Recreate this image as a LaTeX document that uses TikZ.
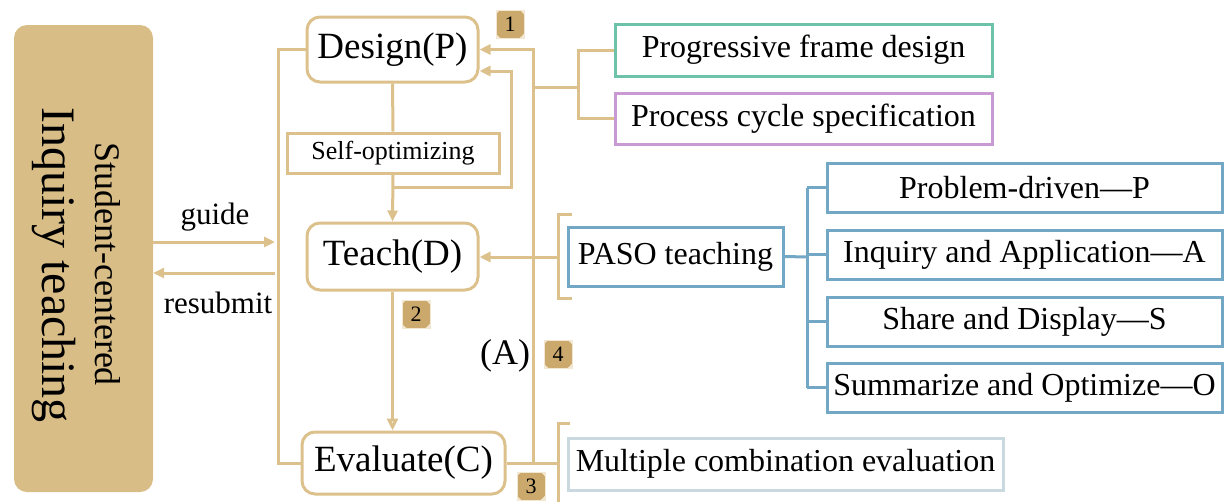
\documentclass[tikz,border=0pt]{standalone}
\usepackage{fontspec}
\setmainfont{Liberation Serif}
\usetikzlibrary{arrows.meta}
\definecolor{mytan}{HTML}{D9BD87}
\definecolor{linetan}{HTML}{DDC18C}
\definecolor{badgedark}{HTML}{CBA86C}
\definecolor{badgelight}{HTML}{F2E7D0}
\definecolor{myteal}{HTML}{6DC2AA}
\definecolor{mypurple}{HTML}{C899D2}
\definecolor{myblue}{HTML}{72A8C5}
\definecolor{mygray}{HTML}{C9D9DF}
\tikzset{
  tanline/.style={draw=linetan, line width=3pt},
  blueline/.style={draw=myblue, line width=3pt},
  arr/.style={-{Triangle[length=11pt,width=10pt]}},
  openarr/.style={-{Triangle[open,length=12pt,width=11pt,fill=white]}},
  procbox/.style={draw=linetan, line width=3pt, rounded corners=13pt, inner sep=0pt,
    fill=white, font=\fontsize{37}{40}\selectfont},
  tbox/.style={rectangle, line width=3pt, inner sep=0pt, fill=white,
    font=\fontsize{32}{36}\selectfont},
  badge/.style={minimum size=28pt, inner sep=0pt, fill=badgelight, draw=badgelight, line width=1pt,
    path picture={\fill[badgedark] (path picture bounding box.center) circle (16.8pt);},
    font=\fontsize{22}{22}\selectfont},
  lbl/.style={inner sep=0pt, font=\fontsize{31}{34}\selectfont}
}
\begin{document}
\begin{tikzpicture}[x=1pt,y=-1pt]
\useasboundingbox (0,0) rectangle (1225,501);

% left panel
\node[fill=mytan, rounded corners=13pt, minimum width=139pt, minimum height=467pt, inner sep=0pt] (main) at (83.5,258.5) {};
\node[rotate=-90, inner sep=0pt, font=\fontsize{48}{50}\selectfont] (inq) at (54,265) {Inquiry teaching};
\node[rotate=-90, inner sep=0pt, font=\fontsize{36}{38}\selectfont] (stu) at (108,264) {Student-centered};

% labels
\node[lbl] (guide) at (215,217) {guide};
\node[lbl] (resub) at (218,303) {resubmit};
\node[inner sep=0pt, font=\fontsize{36}{38}\selectfont] (A) at (505,356) {(A)};

% process boxes
\node[procbox, minimum width=171pt, minimum height=65pt] (design) at (392.5,49.5) {Design(P)};
\node[draw=linetan, line width=3pt, inner sep=0pt, minimum width=212pt, minimum height=40pt, font=\fontsize{26}{28}\selectfont] (self) at (393,153) {Self-optimizing};
\node[procbox, minimum width=171pt, minimum height=67pt] (teach) at (392.5,256.5) {Teach(D)};
\node[procbox, minimum width=203pt, minimum height=62pt] (eval) at (403.5,463) {Evaluate(C)};

% badges
\node[badge] (b1) at (510,24) {1};
\node[badge] (b2) at (416,314) {2};
\node[badge] (b3) at (531,486) {3};
\node[badge] (b4) at (558,354) {4};

% right boxes
\node[tbox, draw=myteal, minimum width=377pt, minimum height=52pt] (prog) at (803.5,50) {Progressive frame design};
\node[tbox, draw=mypurple, minimum width=377pt, minimum height=51pt] (proc) at (803.5,118.5) {Process cycle specification};
\node[tbox, draw=myblue, minimum width=215pt, minimum height=59pt] (paso) at (675.5,256.5) {PASO teaching};
\node[tbox, draw=myblue, minimum width=395pt, minimum height=49pt] (p1) at (1024.5,187.5) {Problem-driven—P};
\node[tbox, draw=myblue, minimum width=395pt, minimum height=49pt] (p2) at (1024.5,254.5) {Inquiry and Application—A};
\node[tbox, draw=myblue, minimum width=395pt, minimum height=49pt] (p3) at (1024.5,321.5) {Share and Display—S};
\node[tbox, draw=myblue, minimum width=395pt, minimum height=49pt] (p4) at (1024.5,387.5) {Summarize and Optimize—O};
\node[tbox, draw=mygray, minimum width=435pt, minimum height=52pt] (mult) at (785.5,464) {Multiple combination evaluation};

% coordinates
\coordinate (gA) at (main.east |- 0,242);
\coordinate (gB) at (275,242);
\coordinate (rA) at (275,273);
\coordinate (rB) at (main.east |- 0,273);
\coordinate (L1) at (278,0 |- design.west);
\coordinate (L2) at (278,0 |- eval.west);
\coordinate (sj) at (393,187);
\coordinate (sk) at (511,187);
\coordinate (sl) at (511,71);
\coordinate (R1) at (533,0 |- design.east);
\coordinate (R2) at (533,463);
\coordinate (Rm) at (533,87);
\coordinate (Bm) at (578,87);
\coordinate (Bt) at (578,0 |- prog.west);
\coordinate (Bb) at (578,0 |- proc.west);
\coordinate (Pm) at (558,257);
\coordinate (Pt) at (558,214);
\coordinate (Pb) at (558,298);
\coordinate (Ptt) at (572,214);
\coordinate (Pbt) at (572,298);
\coordinate (Vm) at (807,257);
\coordinate (V1) at (807,0 |- p1.west);
\coordinate (V4) at (807,0 |- p4.west);
\coordinate (Mj) at (558,463);
\coordinate (Mt) at (558,423);
\coordinate (Mtt) at (570,423);
\coordinate (Mb) at (558,503);

% connectors
\draw[tanline, arr] (gA) -- (gB);
\draw[tanline, arr] (rA) -- (rB);
\draw[tanline] (design.west) -- (L1) -- (L2) -- (eval.west);
\draw[tanline] (design.south) -- (self.north);
\draw[tanline, arr] (self.south) -- (teach.north);
\draw[tanline, arr] (sj) -- (sk) -- (sl) -- (sl -| design.east);
\draw[tanline, openarr] (teach.south) -- (teach.south |- eval.north);
\draw[tanline, arr] (R2) -- (R1) -- (design.east);
\draw[tanline] (eval.east) -- (Mj);
\draw[tanline] (Rm) -- (Bm);
\draw[tanline] (prog.west) -- (Bt) -- (Bb) -- (proc.west);
\draw[tanline, arr] (Pm) -- (Pm -| teach.east);
\draw[tanline] (Ptt) -- (Pt) -- (Pb) -- (Pbt);
\draw[tanline] (Mtt) -- (Mt) -- (Mb);
\draw[blueline] (paso.east) -- (Vm);
\draw[blueline] (V1) -- (V4);
\draw[blueline] (V1) -- (p1.west);
\draw[blueline] (p2.west -| V1) -- (p2.west);
\draw[blueline] (p3.west -| V1) -- (p3.west);
\draw[blueline] (V4) -- (p4.west);
\end{tikzpicture}
\end{document}
